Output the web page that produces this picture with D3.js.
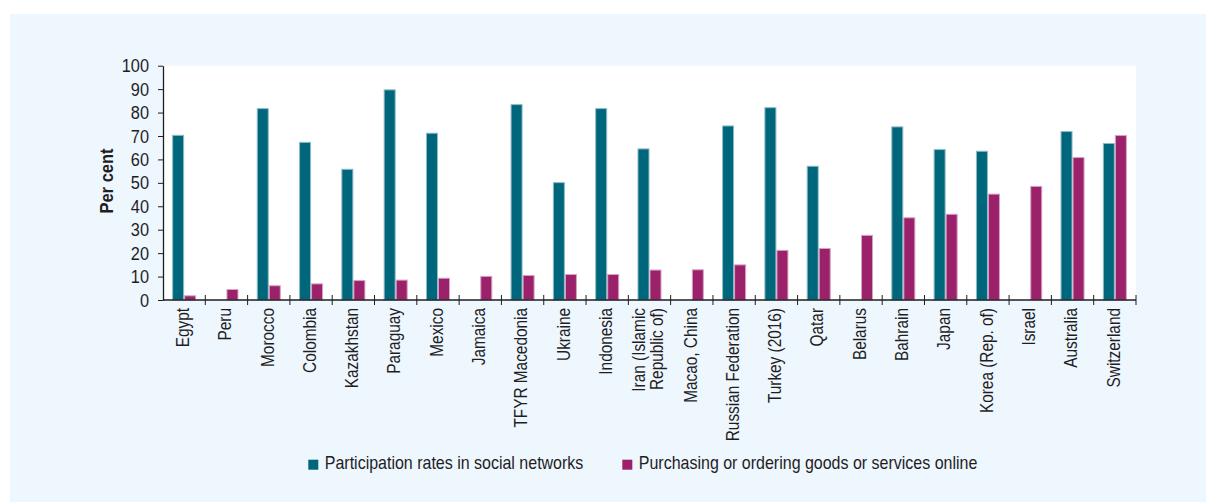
<!DOCTYPE html>
<html>
<head>
<meta charset="utf-8">
<script src="https://cdn.jsdelivr.net/npm/d3@7/dist/d3.min.js"></script>
<style>
  html, body { margin: 0; padding: 0; background: #ffffff; }
  svg { display: block; }
  text { font-family: "Liberation Sans", Arial, sans-serif; fill: #1e1e1e; }
</style>
</head>
<body>
<svg id="chart" width="1206" height="502"></svg>
<script>
// Countries, ordered by online purchasing rate
const categories = [
  "Egypt", "Peru", "Morocco", "Colombia", "Kazakhstan", "Paraguay", "Mexico",
  "Jamaica", "TFYR Macedonia", "Ukraine", "Indonesia", "Iran (Islamic\nRepublic of)",
  "Macao, China", "Russian Federation", "Turkey (2016)", "Qatar", "Belarus",
  "Bahrain", "Japan", "Korea (Rep. of)", "Israel", "Australia", "Switzerland"
];

// Participation rates in social networks (per cent); null = no data
const socialNetworks = [
  70.5, null, 81.9, 67.5, 56.0, 89.9, 71.4, null, 83.6, 50.3, 81.9, 64.7,
  null, 74.5, 82.3, 57.3, null, 74.1, 64.4, 63.7, null, 72.1, 67.0
];

// Purchasing or ordering goods or services online (per cent)
const purchasingOnline = [
  2.0, 4.7, 6.3, 7.1, 8.5, 8.7, 9.5, 10.3, 10.7, 11.1, 11.1, 13.0,
  13.1, 15.2, 21.4, 22.2, 27.8, 35.3, 36.8, 45.4, 48.7, 61.0, 70.4
];

const yTicks = [0, 10, 20, 30, 40, 50, 60, 70, 80, 90, 100];

const seriesNames = [
  "Participation rates in social networks",
  "Purchasing or ordering goods or services online"
];

const seriesColors = ["#00667b", "#9b216b"];
const seriesEdges = ["#8dbcc6", "#d7a3c4"];

// condensed look for the sans face
const condense = { xLabel: 0.81, yTick: 0.86, title: 0.87, legend: 0.842 };

const svg = d3.select("#chart");

// panel background
svg.append("rect")
  .attr("x", 10).attr("y", 14)
  .attr("width", 1196).attr("height", 488)
  .attr("fill", "#eef6fe");

const plot = { left: 163, right: 1136, top: 65.7, bottom: 300 };

svg.append("rect")
  .attr("x", plot.left).attr("y", plot.top)
  .attr("width", plot.right - plot.left).attr("height", plot.bottom - plot.top)
  .attr("fill", "#ffffff");

const x = d3.scaleBand().domain(categories).range([plot.left, plot.right]).padding(0);
const y = d3.scaleLinear().domain([0, 100]).range([plot.bottom, plot.top]);

const barW = x.bandwidth() * 0.284;
const inner = d3.scaleBand().domain([0, 1])
  .range([(x.bandwidth() - 2 * barW) / 2, (x.bandwidth() + 2 * barW) / 2]).padding(0);

const series = [socialNetworks, purchasingOnline];

series.forEach((vals, si) => {
  const rows = categories.map((c, i) => ({ c, v: vals[i] })).filter(d => d.v != null);
  svg.append("g").selectAll("rect")
    .data(rows)
    .join("rect")
    .attr("x", d => x(d.c) + inner(si) + 0.5)
    .attr("y", d => y(d.v) + 0.5)
    .attr("width", inner.bandwidth() - 1)
    .attr("height", d => y(0) - y(d.v) - 0.5)
    .attr("fill", seriesColors[si])
    .attr("stroke", seriesEdges[si])
    .attr("stroke-width", 1);
});

// y axis
const yAxis = svg.append("g")
  .attr("transform", `translate(${plot.left},0)`)
  .call(d3.axisLeft(y).tickValues(yTicks).tickSize(5).tickPadding(9).tickSizeOuter(0));
yAxis.select(".domain").attr("stroke", "#1e1e1e").attr("stroke-width", 1.3);
yAxis.selectAll(".tick line").attr("stroke", "#1e1e1e");
yAxis.selectAll(".tick text")
  .attr("font-size", 19)
  .attr("font-family", null)
  .attr("fill", "#1e1e1e")
  .attr("x", -14 / condense.yTick)
  .attr("transform", `scale(${condense.yTick},1)`);

// x axis with ticks on band boundaries
const xAxis = svg.append("g")
  .attr("transform", `translate(0,${plot.bottom})`);
xAxis.append("line")
  .attr("x1", plot.left).attr("x2", plot.right)
  .attr("stroke", "#1e1e1e").attr("stroke-width", 1.3);
const boundaries = categories.map(c => x(c)).concat([plot.right]);
xAxis.selectAll("line.bound")
  .data(boundaries.slice(1))
  .join("line")
  .attr("class", "bound")
  .attr("x1", d => d).attr("x2", d => d)
  .attr("y1", -5).attr("y2", 5)
  .attr("stroke", "#1e1e1e");

const labels = xAxis.selectAll("text.cat")
  .data(categories)
  .join("text")
  .attr("class", "cat")
  .attr("font-size", 19)
  .attr("text-anchor", "end")
  .attr("transform", d => `translate(${x(d) + x.bandwidth() / 2},8) rotate(-90) scale(${condense.xLabel},1)`);
labels.each(function (d) {
  const lines = d.split("\n");
  const lh = 0.95;
  lines.forEach((ln, i) => {
    d3.select(this).append("tspan")
      .attr("x", 0)
      .attr("dy", i === 0 ? `${0.25 - (lines.length - 1) * lh / 2}em` : `${lh}em`)
      .text(ln);
  });
});

// y axis title
svg.append("text")
  .attr("transform", `translate(112.5,181) rotate(-90) scale(${condense.title},1)`)
  .attr("text-anchor", "middle")
  .attr("font-size", 19)
  .attr("font-weight", "bold")
  .text("Per cent");

// legend
const legend = svg.append("g").attr("transform", "translate(308.3,459.7)");
let lx = 0;
seriesNames.forEach((name, i) => {
  const g = legend.append("g").attr("transform", `translate(${lx},0)`);
  g.append("rect").attr("width", 10).attr("height", 10).attr("fill", seriesColors[i]);
  const t = g.append("text")
    .attr("transform", `translate(16.5,9.3) scale(${condense.legend},1)`)
    .attr("font-size", 19)
    .text(name);
  lx += 16.5 + t.node().getComputedTextLength() * condense.legend + 39;
});
</script>
</body>
</html>
